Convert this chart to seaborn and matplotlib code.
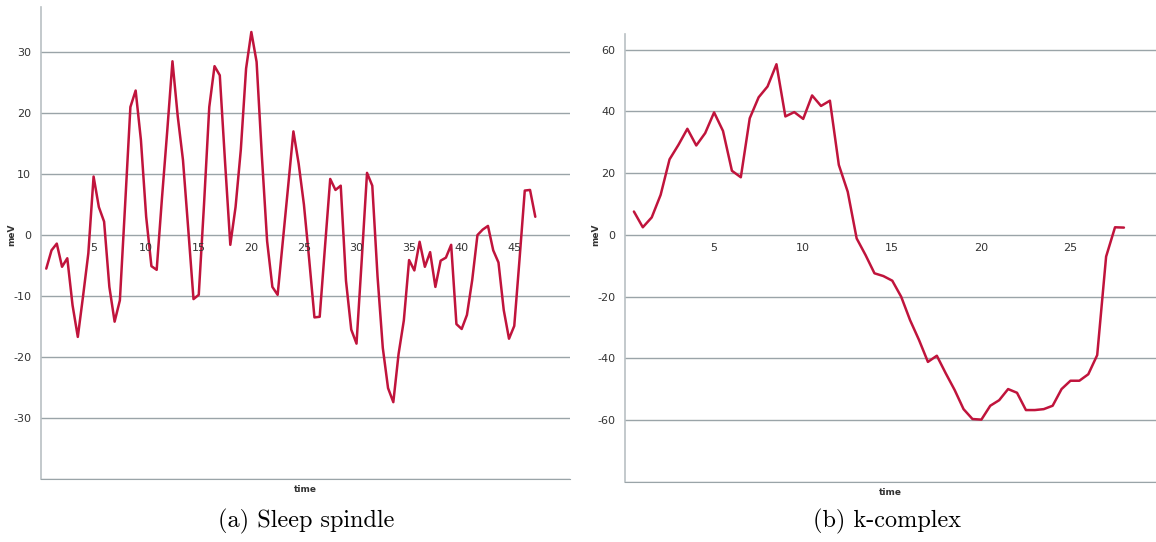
import numpy as np
import pandas as pd
import matplotlib
matplotlib.use("Agg")
import matplotlib.pyplot as plt
import seaborn as sns

# Sleep spindle trace, sampled every half time unit
spindle_time = [0.5 * i for i in range(1, 95)]
spindle_mev = [
    -5.5, -2.5, -1.4, -5.2, -3.8, -11.5, -16.7, -10.0, -3.0, 9.6,
    4.6, 2.2, -8.5, -14.2, -10.7, 5.0, 21.0, 23.7, 15.6, 3.0,
    -5.1, -5.7, 6.0, 17.0, 28.5, 19.5, 12.3, 1.0, -10.5, -9.8,
    5.0, 21.0, 27.7, 26.2, 12.0, -1.6, 4.6, 14.0, 27.3, 33.3,
    28.4, 13.0, -1.0, -8.5, -9.8, -0.9, 8.0, 17.0, 11.7, 5.0,
    -4.0, -13.5, -13.4, -2.0, 9.2, 7.4, 8.1, -7.5, -15.5, -17.8,
    -4.0, 10.2, 8.1, -6.8, -18.5, -25.1, -27.4, -19.5, -14.0, -4.1,
    -5.8, -1.1, -5.2, -2.8, -8.5, -4.2, -3.7, -1.6, -14.6, -15.4,
    -13.1, -7.4, 0.0, 0.9, 1.5, -2.5, -4.5, -12.3, -17.0, -14.9,
    -4.0, 7.3, 7.4, 3.0,
]

# K-complex trace, sampled every half time unit
kcomplex_time = [0.5 * i for i in range(1, 57)]
kcomplex_mev = [
    7.6, 2.5, 5.7, 13.0, 24.5, 29.2, 34.4, 29.0, 33.0, 39.7,
    33.7, 20.8, 18.7, 37.8, 44.6, 48.1, 55.3, 38.4, 39.8, 37.6,
    45.2, 41.8, 43.5, 22.7, 14.0, -1.1, -6.5, -12.4, -13.3, -14.8,
    -20.0, -27.6, -34.0, -41.1, -39.1, -44.8, -50.2, -56.4, -59.6, -59.8,
    -55.3, -53.5, -49.9, -51.1, -56.7, -56.7, -56.4, -55.3, -49.9, -47.2,
    -47.2, -45.1, -38.9, -7.0, 2.5, 2.4,
]

spindle_xticks = [5, 10, 15, 20, 25, 30, 35, 40, 45]
spindle_yticks = [-30, -20, -10, 0, 10, 20, 30]
kcomplex_xticks = [5, 10, 15, 20, 25]
kcomplex_yticks = [-60, -40, -20, 0, 20, 40, 60]

captions = ["(a) Sleep spindle", "(b) k-complex"]

LINE = "#c0143c"
GRID = "#9aa4a8"
SPINE = "#b9c0c3"
TEXT = "#333333"

sns.set_style("white")
plt.rcParams["font.family"] = ["DejaVu Sans"]

fig = plt.figure(figsize=(11.56, 5.42), dpi=100)
ax_a = fig.add_axes([41 / 1156, 1 - 479 / 542, 529 / 1156, 472 / 542])
ax_b = fig.add_axes([625 / 1156, 1 - 482 / 542, 531 / 1156, 448 / 542])


def draw_panel(ax, t, v, xticks, yticks, ylim, xlim, ylabel_x):
    df = pd.DataFrame({"time": t, "meV": v})
    sns.lineplot(data=df, x="time", y="meV", ax=ax, color=LINE, linewidth=1.8)
    ax.set_xlim(*xlim)
    ax.set_ylim(*ylim)
    ax.set_yticks(yticks)
    ax.set_yticklabels([str(y) for y in yticks], fontsize=8, color=TEXT)
    ax.tick_params(axis="y", length=0, pad=7)
    ax.set_xticks([])
    for y in yticks + [ylim[0]]:
        ax.axhline(y, color=GRID, linewidth=1.0, zorder=0)
    for side in ("top", "right"):
        ax.spines[side].set_visible(False)
    ax.spines["left"].set_color(SPINE)
    ax.spines["bottom"].set_color(GRID)
    ax.spines["left"].set_linewidth(1.2)
    # category labels sit just under the zero line
    for x in xticks:
        ax.annotate(str(x), xy=(x, 0), xytext=(0, -9.5), textcoords="offset points",
                    ha="center", va="center", fontsize=8, color=TEXT)
    ax.set_xlabel("time", fontsize=6.5, fontweight="bold", color=TEXT, labelpad=4)
    ax.set_ylabel("")
    ax.text(ylabel_x, 0, "meV", transform=ax.get_yaxis_transform(),
            rotation=90, ha="center", va="center", fontsize=6.5,
            fontweight="bold", color=TEXT)


draw_panel(ax_a, spindle_time, spindle_mev, spindle_xticks, spindle_yticks,
           (-40, 37.4), (0, 50.3), -29 / 529)
draw_panel(ax_b, kcomplex_time, kcomplex_mev, kcomplex_xticks, kcomplex_yticks,
           (-80, 65.1), (0, 29.8), -29 / 531)

fig.text(306 / 1156, 1 - 521 / 542, captions[0], ha="center", va="center",
         fontsize=17.5, color="black", family=["cmr10", "DejaVu Serif"])
fig.text(887 / 1156, 1 - 521 / 542, captions[1], ha="center", va="center",
         fontsize=17.5, color="black", family=["cmr10", "DejaVu Serif"])

fig.savefig("out.png", dpi=100)
